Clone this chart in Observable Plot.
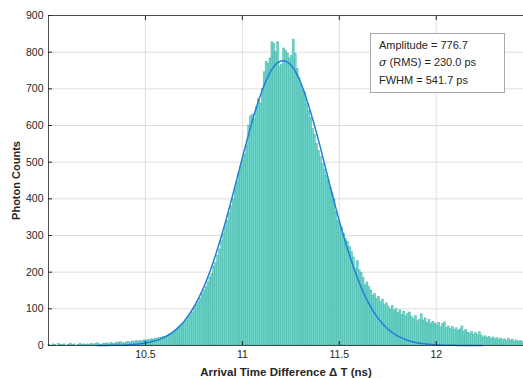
<!DOCTYPE html>
<html><head><meta charset="utf-8">
<script src="https://cdn.jsdelivr.net/npm/d3@7"></script>
<script src="https://cdn.jsdelivr.net/npm/@observablehq/plot@0.6"></script>
<style>
body{margin:0;background:#fff;}
#wrap{position:relative;width:523px;height:378px;font-family:"Liberation Sans",Arial,sans-serif;}
#legend{position:absolute;left:370px;top:33px;width:135px;height:60px;box-sizing:border-box;border:1px solid #a8a8a8;background:#fff;font-size:11px;color:#262626;padding:3px 0 0 8px;line-height:17.3px;white-space:nowrap;}
#legend i{font-family:"DejaVu Serif",serif;}
</style></head><body><div id="wrap"><div id="legend"></div></div>
<script>
// Histogram: bins of 10 ps starting at 10.00 ns
const binStart = 10.0;
const binWidth = 0.01;
const counts = [
  2,0,3,1,0,4,2,1,3,0,
  2,5,1,3,0,2,4,1,3,2,
  3,1,5,2,4,6,3,2,5,4,
  6,3,7,4,5,8,6,9,5,7,
  8,10,7,11,9,12,10,13,11,14,
  12,15,14,17,16,19,18,21,20,23,
  24,27,30,32,36,40,44,50,54,58,
  62,68,75,82,90,100,110,118,128,140,
  150,160,172,185,195,215,225,245,262,285,
  305,325,340,362,380,400,428,445,470,488,
  505,520,545,600,625,630,618,650,672,660,
  700,745,774,768,783,827,823,800,827,759,
  765,810,804,796,783,790,834,796,755,730,
  712,695,690,660,640,620,590,575,550,530,
  515,495,480,462,448,430,415,400,365,340,
  330,322,305,290,282,268,255,240,210,230,
  205,198,185,165,172,160,150,135,140,128,
  132,118,125,110,115,105,98,108,95,100,
  88,96,84,92,80,86,90,78,72,80,
  66,70,85,68,74,62,70,58,64,60,
  55,62,50,58,63,48,52,45,50,42,
  47,40,44,52,38,42,35,32,37,30,
  34,29,36,26,22,25,20,23,18,22,
  17,20,15,19,14,17,12,18,13,16,
  11,14,10,13,9
];
// Gaussian fit curve
const fitX = [10.25,10.30,10.35,10.40,10.45,10.50,10.55,10.60,10.65,10.70,10.75,10.80,10.85,10.90,10.95,11.00,11.05,11.10,11.15,11.20,11.25,11.30,11.35,11.40,11.45,11.50,11.55,11.60,11.65,11.70,11.75,11.80,11.85,11.90,11.95,12.00,12.05,12.10,12.15,12.20,12.24];
const fitY = [0.1,0.3,0.7,1.6,3.3,6.6,12.7,23,40,66,105,158,228,313,410,512,610,693,751,776,765,718,640,545,440,340,250,175,116,74,45,26,14.5,7.6,3.8,1.8,0.8,0.35,0.15,0.06,0.03];
const xTicks = [10.5, 11, 11.5, 12];
const xTickLabels = ["10.5", "11", "11.5", "12"];
const yTicks = [0,100,200,300,400,500,600,700,800,900];
const legendLines = ["Amplitude = 776.7", "<i>σ</i> (RMS) = 230.0 ps", "FWHM = 541.7 ps"];

const bins = counts.map((c, i) => ({x1: binStart + i * binWidth, x2: binStart + (i + 1) * binWidth, count: c}));
const fit = fitX.map((x, i) => ({x, y: fitY[i]}));
const blank = () => "";

const svg = Plot.plot({
  width: 523, height: 378,
  marginLeft: 48, marginRight: 0, marginTop: 15, marginBottom: 33,
  style: {fontFamily: "Liberation Sans, Arial, sans-serif", fontSize: "10.5px", color: "#262626", background: "#fff"},
  x: {domain: [10, 12.45]},
  y: {domain: [0, 900]},
  marks: [
    Plot.gridX(xTicks, {stroke: "#dedede", strokeOpacity: 1}),
    Plot.gridY(yTicks, {stroke: "#dedede", strokeOpacity: 1}),
    Plot.rectY(bins, {x1: "x1", x2: "x2", y: "count", fill: "#6fd6cb", stroke: "#45b3a7", strokeWidth: 0.5}),
    Plot.line(fit, {x: "x", y: "y", stroke: "#1f80d8", strokeWidth: 1.5, curve: "natural"}),
    Plot.ruleY([0, 900], {stroke: "#262626", strokeWidth: 0.8}),
    Plot.ruleX([10], {stroke: "#262626", strokeWidth: 0.8}),
    Plot.axisX(xTicks, {anchor: "bottom", tickSize: 0, tickPadding: 5, tickFormat: (d, i) => xTickLabels[xTicks.indexOf(d)], label: "Arrival Time Difference Δ T (ns)", labelArrow: false, labelAnchor: "center", labelOffset: 30}),
    Plot.axisX(xTicks, {anchor: "bottom", tickSize: -4, tickFormat: blank, label: null}),
    Plot.axisX(xTicks, {anchor: "top", tickSize: -4, tickFormat: blank, label: null}),
    Plot.axisY(yTicks, {anchor: "left", tickSize: 0, tickPadding: 5, label: "Photon Counts", labelArrow: false, labelAnchor: "center", labelOffset: 36}),
    Plot.axisY(yTicks, {anchor: "left", tickSize: -4, tickFormat: blank, label: null})
  ]
});
d3.select(svg).selectAll('[aria-label="x-axis label"] text').attr("font-weight", "bold").attr("font-size", "11.5px");
d3.select(svg).selectAll('[aria-label="y-axis label"] text').attr("font-weight", "bold").attr("font-size", "11px");
document.getElementById("wrap").prepend(svg);
document.getElementById("legend").innerHTML = legendLines.join("<br>");
</script>
</body></html>
